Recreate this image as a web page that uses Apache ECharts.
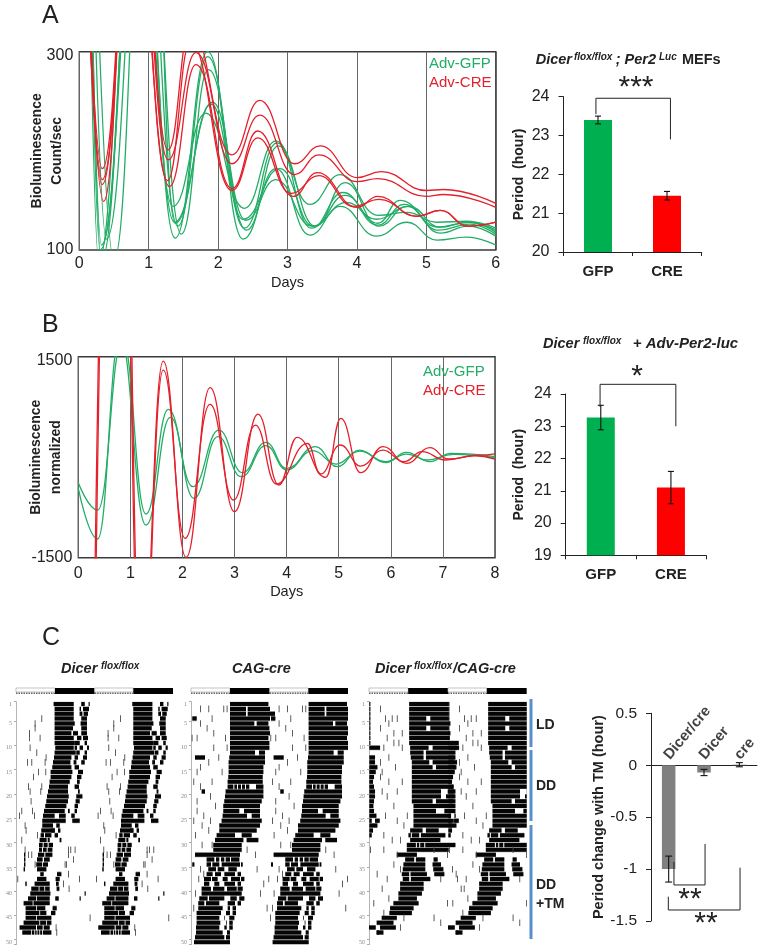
<!DOCTYPE html>
<html>
<head>
<meta charset="utf-8">
<style>html,body{margin:0;padding:0;background:#fff}#c{width:762px;height:948px}</style>
<script src="https://cdn.jsdelivr.net/npm/echarts@6/dist/echarts.min.js"></script>
</head>
<body>
<div id="c"></div>
<script>
// ---------- Panel A traces: [day, count/sec] at turning points ----------
const gfpA1=[[.1,700],[.32,90],[.85,520],[1.38,112],[1.85,300],[2.36,111],[2.83,182],[3.32,115],[3.76,144],[4.28,114],[4.72,128],[5.15,110],[5.58,113],[6,105]];
const gfpA2=[[.12,650],[.39,111],[.95,520],[1.47,116],[1.86,282],[2.41,120],[2.87,205],[3.4,124],[3.83,168],[4.32,124],[4.72,144],[5.2,117],[5.6,124],[6,114]];
const gfpA3=[[.14,650],[.5,90],[1.0,600],[1.38,127],[1.9,247],[2.36,131],[2.89,182],[3.37,124],[3.83,155],[4.3,127],[4.62,150],[5.17,123],[5.62,128],[6,118]];
const gfpA4=[[.08,700],[.28,90],[.8,520],[1.35,144],[1.82,238],[2.38,142],[2.83,210],[3.32,146],[3.76,176],[4.3,135],[4.72,138],[5.15,128],[5.58,129],[6,122]];
const gfpA5=[[.1,650],[.32,105],[.85,500],[1.37,128],[1.92,249],[2.4,130],[2.83,171],[3.35,124],[3.85,148],[4.28,131],[4.75,144],[5.2,123],[5.6,128],[6,120]];
const gfpA6=[[.1,650],[.3,100],[.9,510],[1.42,124],[1.85,295],[2.38,122],[2.85,208],[3.34,122],[3.8,158],[4.3,125],[4.68,146],[5.18,120],[5.62,126],[6,116]];
const creA1=[[.05,520],[.33,182],[.8,520],[1.28,201],[1.6,325],[2.2,196],[2.6,251],[3.1,187],[3.47,205],[4,173],[4.35,179],[5,160],[5.25,161],[6,147]];
const creA2=[[.05,520],[.33,171],[.8,500],[1.28,191],[1.68,299],[2.2,187],[2.6,236],[3.1,176],[3.45,196],[4,169],[4.3,172],[5,154],[5.25,156],[6,143]];
const creA3=[[.05,500],[.35,149],[.75,480],[1.3,164],[1.68,287],[2.2,162],[2.57,220],[3.08,154],[3.43,178],[4,143],[4.3,154],[4.85,134],[5.2,140],[5.6,124],[6,128]];
const creA4=[[.05,500],[.33,166],[.78,490],[1.27,170],[1.6,310],[2.2,160],[2.57,213],[3.05,157],[3.45,175],[3.95,144],[4.32,151],[4.87,134],[5.2,140],[5.6,124],[6,128]];
// ---------- Panel B traces ----------
const gfpB1=[[0,-380],[.37,-789],[.85,1750],[1.3,-848],[1.73,714],[2.2,-440],[2.7,405],[3.15,-231],[3.6,221],[4,-167],[4.55,157],[4.97,-142],[5.4,107],[5.9,-82],[6.3,72],[6.75,-67],[7.15,57],[8,8]];
const gfpB2=[[0,-465],[.37,-1221],[.8,1800],[1.3,-1012],[1.77,595],[2.22,-614],[2.68,306],[3.13,-291],[3.6,172],[4,-191],[4.5,97],[4.95,-102],[5.4,92],[5.9,-67],[6.3,47],[6.7,-42],[7.2,42],[8,-7]];
const creB1=[[.28,-4000],[.74,11000],[1.2,-3500],[1.63,1435],[2.07,-1495],[2.53,1037],[3,-813],[3.45,644],[3.85,-415],[4.2,296],[4.75,-300],[5.04,580],[5.42,-231],[5.85,157],[6.3,-92],[6.75,142],[7.1,-27],[7.7,32],[8,50]];
const creB2=[[.3,-4000],[.76,11000],[1.22,-3500],[1.63,1300],[2.05,-1211],[2.53,789],[2.98,-639],[3.4,480],[3.8,-400],[4.4,207],[4.65,-251],[5.03,182],[5.42,-132],[5.85,107],[6.25,-67],[6.6,82],[7.05,-42],[7.6,22],[8,-30]];
// ---------- Bar values ----------
const barCats=['GFP','CRE'];
const periodA=[23.4,21.45], periodAErr=[.1,.11];
const periodB=[23.27,21.1], periodBErr=[.38,.5];
const tmCats=['Dicer/cre','Dicer','cre'];
const tmChange=[-1,-.07,.005], tmErr=[.125,.03,.02];
// brackets: [x in category widths, value]
const bracketA=[[.47,23.55],[.47,23.96],[1.55,23.96],[1.55,22.9]];
const bracketB=[[.49,23.6],[.49,24.3],[1.57,24.3],[1.57,23]];
const bracketC1=[[.65,-.93],[.65,-1.153],[1.53,-1.153],[1.53,-.758]];
const bracketC2=[[.49,-1.266],[.49,-1.394],[2.52,-1.394],[2.52,-.987]];
// ---------- Actograms: 6-minute bins, one row per day ----------
const rowLabels=Array.from({length:50},(_,i)=>String(i+1));
const ldBlocks=[[0,117,0],[117,236,1],[236,352,0],[352,471,1]];
const startP1=[113,116,116,116,116,116,116,116,116,118,116,114,111,109,104,104,101,99,96,93,91,88,84,81,79,79,76,74,71,69,69,66,63,61,63,73,63,56,46,43,36,23,29,29,29,23,11,19];
const endP1=[173,173,173,173,176,171,166,173,176,173,179,166,163,166,169,166,161,156,156,158,156,151,146,149,149,111,116,106,101,111,109,109,101,96,91,83,91,101,101,103,101,101,96,91,106,106,101,106];
const sideP1=[[1,196,206],[1,218,221],[2,191,195],[2,201,219],[3,191,199],[3,203,216],[4,196,213],[5,194,213],[6,196,213],[7,171,186],[7,196,213],[8,183,196],[8,201,216],[9,176,191],[9,206,213],[10,176,183],[10,191,201],[10,213,219],[11,181,191],[11,206,213],[12,176,186],[12,201,213],[13,173,181],[13,196,206],[14,176,189],[15,186,201],[16,183,196],[17,183,191],[18,176,189],[19,186,191],[20,181,199],[21,179,191],[22,176,186],[23,156,161],[23,176,183],[24,166,176],[25,169,191],[26,121,131],[27,106,116],[27,126,133],[28,116,126],[29,131,136],[32,24,28],[33,24,28],[34,24,28],[35,23,27],[36,123,136],[37,119,131],[38,120,128],[38,28,32],[39,122,130],[41,118,128],[41,191,194],[40,206,209],[43,110,122],[44,105,118]];
const holeP1=[[24,116,129],[28,84,87],[29,92,95],[30,80,83],[30,95,98],[31,78,81],[31,92,95],[32,85,88],[33,80,84],[34,78,80],[39,68,70],[39,85,87],[41,60,62],[42,50,52],[43,60,62],[43,88,105],[44,70,72],[45,60,62],[46,70,72],[46,90,92],[47,60,63],[47,80,83],[48,45,47],[48,55,57],[48,62,64],[48,70,72],[48,78,80]];
const tickP1=[[4,76],[5,56],[6,56],[7,39],[8,39],[8,71],[10,41],[11,61],[12,89],[13,33],[13,46],[13,86],[15,66],[15,88],[16,51],[18,36],[18,76],[19,41],[19,73],[21,44],[23,16],[23,48],[24,9],[24,54],[26,26],[27,29],[28,63],[29,16],[31,26],[31,156],[31,163],[31,176],[32,36],[32,46],[32,156],[33,171],[34,56],[34,146],[34,150],[36,156],[37,4],[37,189],[38,141],[39,158],[45,221],[47,119],[48,121]];
const startP2=[117,117,117,117,117,117,117,117,117,117,117,115,113,113,113,112,110,110,104,102,100,97,97,95,92,85,85,77,72,67,67,12,47,47,52,47,39,39,32,32,25,22,22,17,17,17,15,15,12,9];
const endP2=[232,237,252,237,232,235,237,232,235,235,222,222,222,217,217,215,215,217,217,217,212,207,207,207,212,207,197,182,157,152,152,147,117,147,137,132,147,132,137,152,137,132,117,117,102,107,107,117,117,117];
const sideP2=[[4,4,17],[12,12,42],[19,32,42],[29,167,202],[33,120,145],[34,150,155],[34,4,10],[36,140,150],[37,150,160],[38,140,150],[39,140,155],[41,145,160],[42,140,150],[43,125,135],[44,125,135],[45,115,130],[46,115,125],[47,115,125]];
const holeP2=[[2,165,170],[3,165,170],[5,190,197],[11,192,204],[18,127,130],[18,138,141],[18,150,153],[18,162,165],[18,175,195],[23,145,159],[24,168,182],[28,132,152],[33,70,75],[33,85,90],[33,100,104],[34,60,64],[34,85,92],[35,75,80],[35,100,112],[36,65,72],[36,90,100],[37,60,63],[37,80,95],[37,110,120],[38,55,70],[38,85,100],[39,60,66],[39,100,108],[41,50,54],[41,100,118],[42,40,45],[42,85,110],[43,95,110],[44,90,105],[45,85,100],[46,88,105],[47,85,100],[48,95,108],[49,100,105]];
const tickP2=[[2,27],[2,52],[2,97],[2,107],[4,62],[5,27],[6,47],[7,67],[8,102],[8,17],[8,2],[10,67],[10,107],[12,82],[13,52],[14,27],[15,17],[15,92],[17,7],[17,62],[18,27],[20,57],[21,17],[22,72],[23,17],[24,37],[25,57],[25,7],[26,32],[27,52],[28,12],[30,62],[30,32],[31,167],[32,192],[35,27],[35,197],[36,37],[37,22],[37,232],[38,217],[40,12],[40,207],[43,7],[43,227],[45,237]];
const startP3=[120,120,120,120,120,120,120,120,120,123,123,125,128,128,128,128,128,128,128,128,128,133,133,133,133,133,123,118,123,113,113,83,108,103,101,98,101,93,93,88,88,73,63,61,38,23,33,23];
const endP3=[238,238,238,238,243,238,243,241,268,263,258,258,263,258,253,248,243,253,258,258,258,258,258,258,253,248,208,228,213,258,238,143,168,168,168,173,183,163,163,158,143,148,133,128,83,73,80,43];
const sideP3=[[1,1,4],[2,1,4],[3,1,4],[4,1,4],[5,1,4],[6,1,4],[7,1,4],[8,1,4],[9,1,4],[10,1,33],[12,1,18],[13,1,18],[14,1,25],[15,1,20],[16,1,15],[17,1,12],[18,1,15],[19,1,18],[20,1,18],[21,1,15],[22,1,13],[23,1,15],[24,1,22],[25,1,8],[25,18,32],[26,1,25],[27,1,12],[28,1,8],[33,193,205],[34,190,215],[35,192,222],[36,195,225],[47,0,20],[48,23,30]];
const holeP3=[[4,171,183],[6,171,183],[10,178,190],[11,163,170],[12,163,170],[13,180,190],[14,190,200],[19,215,235],[20,215,230],[21,190,200],[23,200,225],[24,245,255],[27,160,170],[28,125,128],[28,150,155],[30,140,143],[30,150,153],[30,165,168],[36,120,124],[37,120,125],[33,135,140]];
const tickP3=[[2,33],[4,68],[4,48],[4,83],[5,58],[6,33],[7,98],[7,73],[8,53],[9,73],[9,88],[10,43],[10,98],[12,58],[13,33],[14,78],[15,38],[16,33],[17,58],[17,98],[19,83],[19,38],[20,53],[22,73],[24,113],[24,48],[25,83],[26,103],[28,43],[29,68],[29,93],[31,3],[31,43],[31,193],[32,83],[32,233],[34,73],[35,93],[35,248],[36,23],[37,53],[37,263],[37,213],[39,38],[39,283],[41,58],[42,13],[42,233],[44,43],[45,103],[45,193],[46,213],[47,93]];
// ---------- Text ----------
const DOUBLE_SHIFT=236, BIN_MAX=471;
const FONT='"Liberation Sans", Arial, sans-serif';
const GREEN='#22ad66', RED='#e3202b', INK='#222';

// ---------- builders ----------
const grids=[],xAxes=[],yAxes=[],series=[];
function addGrid(g,x,y){g.outerBoundsMode='none';g.containLabel=false;x.nameMoveOverlap=false;y.nameMoveOverlap=false;const i=grids.length;grids.push(g);x.gridIndex=i;y.gridIndex=i;xAxes.push(x);yAxes.push(y);return {g:i,x:xAxes.length-1,y:yAxes.length-1};}
function addHiddenX(i,max){xAxes.push({gridIndex:i.g,type:'value',min:0,max,show:false});return xAxes.length-1;}

function tracePanel(box,maxDay,ymin,ymax,name,nameGap,xGap,curves){
  const a=addGrid({left:box[0],top:box[1],width:box[2],height:box[3],show:true,borderColor:'#3a3a3a',borderWidth:1.4,backgroundColor:'#fff'},
   {type:'value',min:0,max:maxDay,interval:1,axisLine:{show:false},axisTick:{show:false},
    axisLabel:{color:INK,fontSize:16,fontFamily:FONT,margin:6+xGap},
    splitLine:{show:true,lineStyle:{color:'#666',width:1}},
    name:'Days',nameLocation:'middle',nameGap:25+xGap,nameTextStyle:{color:INK,fontSize:14.5,fontFamily:FONT}},
   {type:'value',min:ymin,max:ymax,axisLine:{show:false},axisTick:{show:false},splitLine:{show:false},
    axisLabel:{color:INK,fontSize:16,fontFamily:FONT,margin:6,customValues:[ymin,ymax],
      formatter:v=>v===ymax?'{top|'+v+'}':String(v),rich:{top:{padding:[8,0,0,0],fontSize:16,fontFamily:FONT,color:INK}}},
    name,nameLocation:'middle',nameRotate:90,nameGap,nameTextStyle:{color:INK,fontSize:14,fontWeight:'bold',fontFamily:FONT,lineHeight:20}});
  curves.forEach(([d,c])=>series.push({type:'line',xAxisIndex:a.x,yAxisIndex:a.y,data:d,showSymbol:false,symbol:'none',smooth:.46,smoothMonotone:'x',clip:true,silent:true,lineStyle:{color:c,width:1.3},animation:false,z:3}));
}
function errSeries(a,vals,errs,cap){
  series.push({type:'custom',xAxisIndex:a.x,yAxisIndex:a.y,silent:true,animation:false,z:5,clip:false,
    data:vals.map((v,i)=>[i,v-errs[i],v+errs[i]]),
    renderItem(p,api){
      const hi=api.coord([api.value(0),api.value(2)]),lo=api.coord([api.value(0),api.value(1)]);
      const st={stroke:'#111',lineWidth:1.1,fill:null};
      return {type:'group',children:[
        {type:'line',shape:{x1:hi[0],y1:hi[1],x2:lo[0],y2:lo[1]},style:st},
        {type:'line',shape:{x1:hi[0]-cap,y1:hi[1],x2:hi[0]+cap,y2:hi[1]},style:st},
        {type:'line',shape:{x1:lo[0]-cap,y1:lo[1],x2:lo[0]+cap,y2:lo[1]},style:st}]};
    }});
}
function bracket(a,xi,data){series.push({type:'line',xAxisIndex:xi,yAxisIndex:a.y,data,showSymbol:false,symbol:'none',clip:false,silent:true,animation:false,z:6,lineStyle:{color:'#222',width:1}});}
function barPanel(box,ymin,ymax,vals,errs,br,nameGap){
  const a=addGrid({left:box[0],top:box[1],width:box[2],height:box[3]},
   {type:'category',data:barCats,axisLine:{lineStyle:{color:'#222',width:1}},axisTick:{show:true,length:4,lineStyle:{color:'#222'}},
    axisLabel:{color:INK,fontSize:15,fontWeight:'bold',fontFamily:FONT,margin:12}},
   {type:'value',min:ymin,max:ymax,interval:1,axisLine:{show:true,lineStyle:{color:'#222',width:1}},axisTick:{show:true,length:5,lineStyle:{color:'#222'}},splitLine:{show:false},
    axisLabel:{color:INK,fontSize:16,fontFamily:FONT,margin:14},
    name:'Period  (hour)',nameLocation:'middle',nameRotate:90,nameGap,nameTextStyle:{color:INK,fontSize:14,fontWeight:'bold',fontFamily:FONT}});
  series.push({type:'bar',xAxisIndex:a.x,yAxisIndex:a.y,barWidth:28,animation:false,silent:true,
    data:vals.map((v,i)=>({value:v,itemStyle:{color:i?'#ff0000':'#00b050'}}))});
  errSeries(a,vals,errs,3);
  bracket(a,addHiddenX(a,2),br);
}
function actogram(left,right,starts,ends,side,holes,ticks){
  const top=701.6,h=243;
  const a=addGrid({left,top,width:right-left,height:h},
   {type:'value',min:-6,max:BIN_MAX,show:false},
   {type:'category',inverse:true,data:rowLabels,boundaryGap:true,
    axisLine:{show:true,lineStyle:{color:'#b5b5b5',width:1}},
    axisTick:{show:true,length:2,lineStyle:{color:'#aaa'},interval:(i,v)=>(+v===1||+v%5===0)},
    axisLabel:{color:'#888',fontSize:6,fontFamily:'"Liberation Serif",serif',margin:2,interval:(i,v)=>(+v===1||+v%5===0)},splitLine:{show:false}});
  const dbl=(r,s,e)=>[[r-1,s,e],[r-1,s+DOUBLE_SHIFT,Math.min(e+DOUBLE_SHIFT,BIN_MAX)]];
  const main=[];starts.forEach((s,i)=>main.push(...dbl(i+1,s,ends[i])));
  side.forEach(([r,s,e])=>main.push(...dbl(r,s,e)));
  const rectItem=(hf,col)=>(p,api)=>{
    const r=api.value(0);const p0=api.coord([api.value(1),r]),p1=api.coord([api.value(2),r]);const bh=api.size([0,1])[1]*hf;
    return {type:'rect',shape:{x:p0[0],y:p0[1]-bh/2,width:Math.max(p1[0]-p0[0],.8),height:bh},style:{fill:col}};
  };
  const add=(data,hf,col,z)=>series.push({type:'custom',xAxisIndex:a.x,yAxisIndex:a.y,encode:{x:[1,2],y:0},data,renderItem:rectItem(hf,col),clip:true,silent:true,animation:false,z});
  add(main,1.04,'#a0a0a0',2);
  add(main,.82,'#050505',3);
  const hs=[];holes.forEach(([r,s,e])=>hs.push(...dbl(r,s,e)));
  add(hs,1.06,'#ffffff',4);
  const ts=[];ticks.forEach(([r,b])=>ts.push(...dbl(r,b,b+2.6)));
  add(ts,1.35,'#444',3);
  // Light/dark bar over the record
  const ld=addGrid({left:left+2,top:688,width:right-left-2,height:6},{type:'value',min:0,max:BIN_MAX,show:false},{type:'value',min:0,max:1,show:false});
  series.push({type:'custom',xAxisIndex:ld.x,yAxisIndex:ld.y,data:ldBlocks,encode:{x:[0,1]},silent:true,animation:false,
    renderItem(p,api){const a0=api.coord([api.value(0),1]),a1=api.coord([api.value(1),0]);
      const w=a1[0]-a0[0],h=a1[1]-a0[1];
      return api.value(2)?{type:'rect',shape:{x:a0[0],y:a0[1],width:w,height:h},style:{fill:'#000'}}
       :{type:'group',children:[
         {type:'rect',shape:{x:a0[0],y:a0[1],width:w,height:h-2},style:{fill:'#fff',stroke:'#aaa',lineWidth:.7}},
         {type:'line',shape:{x1:a0[0],y1:a1[1]-.8,x2:a1[0],y2:a1[1]-.8},style:{stroke:'#666',lineWidth:1.4,lineDash:[1.5,1]}}]};}});
}

// ---------- panels ----------
tracePanel([79.3,51.7,416.5,198.3],6,100,300,'Bioluminescence\nCount/sec',12,0,
 [[gfpA1,GREEN],[gfpA2,GREEN],[gfpA3,GREEN],[gfpA4,GREEN],[gfpA5,GREEN],[gfpA6,GREEN],[creA1,RED],[creA2,RED],[creA3,RED],[creA4,RED]]);
tracePanel([78.3,356.7,416.7,201],8,-1500,1500,'Bioluminescence\nnormalized',12,2,
 [[gfpB1,GREEN],[gfpB2,GREEN],[creB1,RED],[creB2,RED]]);
barPanel([563.5,96.7,138,155.3],20,24,periodA,periodAErr,bracketA,37.5);
barPanel([565.7,394,140.3,161.3],19,24,periodB,periodBErr,bracketB,39.5);
actogram(14,173,startP1,endP1,sideP1,holeP1,tickP1);
actogram(189,348,startP2,endP2,sideP2,holeP2,tickP2);
actogram(367,526.7,startP3,endP3,sideP3,holeP3,tickP3);
// Panel C bars
(function(){
  const a=addGrid({left:651,top:713.3,width:106,height:207.7},
   {type:'category',data:tmCats,axisLine:{onZero:true,lineStyle:{color:'#222'}},axisTick:{show:false},axisLabel:{show:false}},
   {type:'value',min:-1.5,max:.5,interval:.5,axisLine:{show:true,lineStyle:{color:'#222'}},axisTick:{show:true,length:5,lineStyle:{color:'#222'}},splitLine:{show:false},
    axisLabel:{color:INK,fontSize:15.5,fontFamily:FONT,margin:14},
    name:'Period change with TM (hour)',nameLocation:'middle',nameRotate:90,nameGap:45,nameTextStyle:{color:INK,fontSize:14.5,fontWeight:'bold',fontFamily:FONT}});
  series.push({type:'bar',xAxisIndex:a.x,yAxisIndex:a.y,barWidth:13.5,data:tmChange,itemStyle:{color:'#808080'},silent:true,animation:false});
  series.push({type:'scatter',xAxisIndex:a.x,yAxisIndex:a.y,symbolSize:0,silent:true,animation:false,clip:false,z:7,
    data:tmCats.map(c=>[c,0]),
    label:{show:true,position:'top',distance:10,offset:[-3,0],rotate:50,align:'left',verticalAlign:'middle',color:'#111',fontSize:15,fontWeight:'bold',fontFamily:FONT,formatter:p=>p.value[0]}});
  errSeries(a,tmChange,tmErr,3.5);
  const xi=addHiddenX(a,3);
  bracket(a,xi,bracketC1);bracket(a,xi,bracketC2);
})();

// ---------- text ----------
const txt=(x,y,text,size,weight,color,style,align)=>({type:'text',x,y,silent:true,z:20,style:{text,fill:color||INK,fontSize:size,fontWeight:weight||'normal',fontStyle:style||'normal',fontFamily:FONT,verticalAlign:'middle',align:align||'left'}});
const graphic=[
 txt(42,16,'A',25),txt(42,325,'B',25),txt(42,638,'C',25),
 txt(429,64,'Adv-GFP',15,'normal',GREEN),txt(429,83,'Adv-CRE',15,'normal',RED),
 txt(423,372,'Adv-GFP',15,'normal',GREEN),txt(423,391,'Adv-CRE',15,'normal',RED),
 txt(535.7,60,'Dicer',14.5,'bold',INK,'italic'),txt(574,57,'flox/flox',10,'bold',INK,'italic'),
 txt(615.7,60,'; Per2',14.5,'bold',INK,'italic'),txt(659,57,'Luc',10,'bold',INK,'italic'),txt(682,60,'MEFs',14.5,'bold'),
 txt(543,344,'Dicer',14.5,'bold',INK,'italic'),txt(583,341,'flox/flox',10,'bold',INK,'italic'),txt(632.7,344,'+ Adv-Per2-luc',15,'bold',INK,'italic'),
 txt(61,669,'Dicer',14.5,'bold',INK,'italic'),txt(101,666,'flox/flox',10,'bold',INK,'italic'),
 txt(232,669,'CAG-cre',14.5,'bold',INK,'italic'),
 txt(375,669,'Dicer',14.5,'bold',INK,'italic'),txt(414,666,'flox/flox',10,'bold',INK,'italic'),txt(453,669,'/CAG-cre',14.5,'bold',INK,'italic'),
 txt(636,88,'***',30,'normal',INK,'normal','center'),
 txt(637,377,'*',30,'normal',INK,'normal','center'),
 txt(690,900,'**',30,'normal',INK,'normal','center'),
 txt(706,924,'**',30,'normal',INK,'normal','center'),
 txt(536,725,'LD',14,'bold'),txt(536,786,'DD',14,'bold'),txt(536,885,'DD',14,'bold'),txt(536,904,'+TM',14,'bold'),
 {type:'rect',silent:true,shape:{x:529.5,y:699,width:3,height:48},style:{fill:'#5b8ec9'}},
 {type:'rect',silent:true,shape:{x:529.5,y:750,width:3,height:71},style:{fill:'#5b8ec9'}},
 {type:'rect',silent:true,shape:{x:529.5,y:825,width:3,height:114},style:{fill:'#5b8ec9'}}
];
const chart=echarts.init(document.getElementById('c'),null,{renderer:'canvas'});
chart.setOption({animation:false,backgroundColor:'#fff',grid:grids,xAxis:xAxes,yAxis:yAxes,series,graphic});
</script>
</body>
</html>
